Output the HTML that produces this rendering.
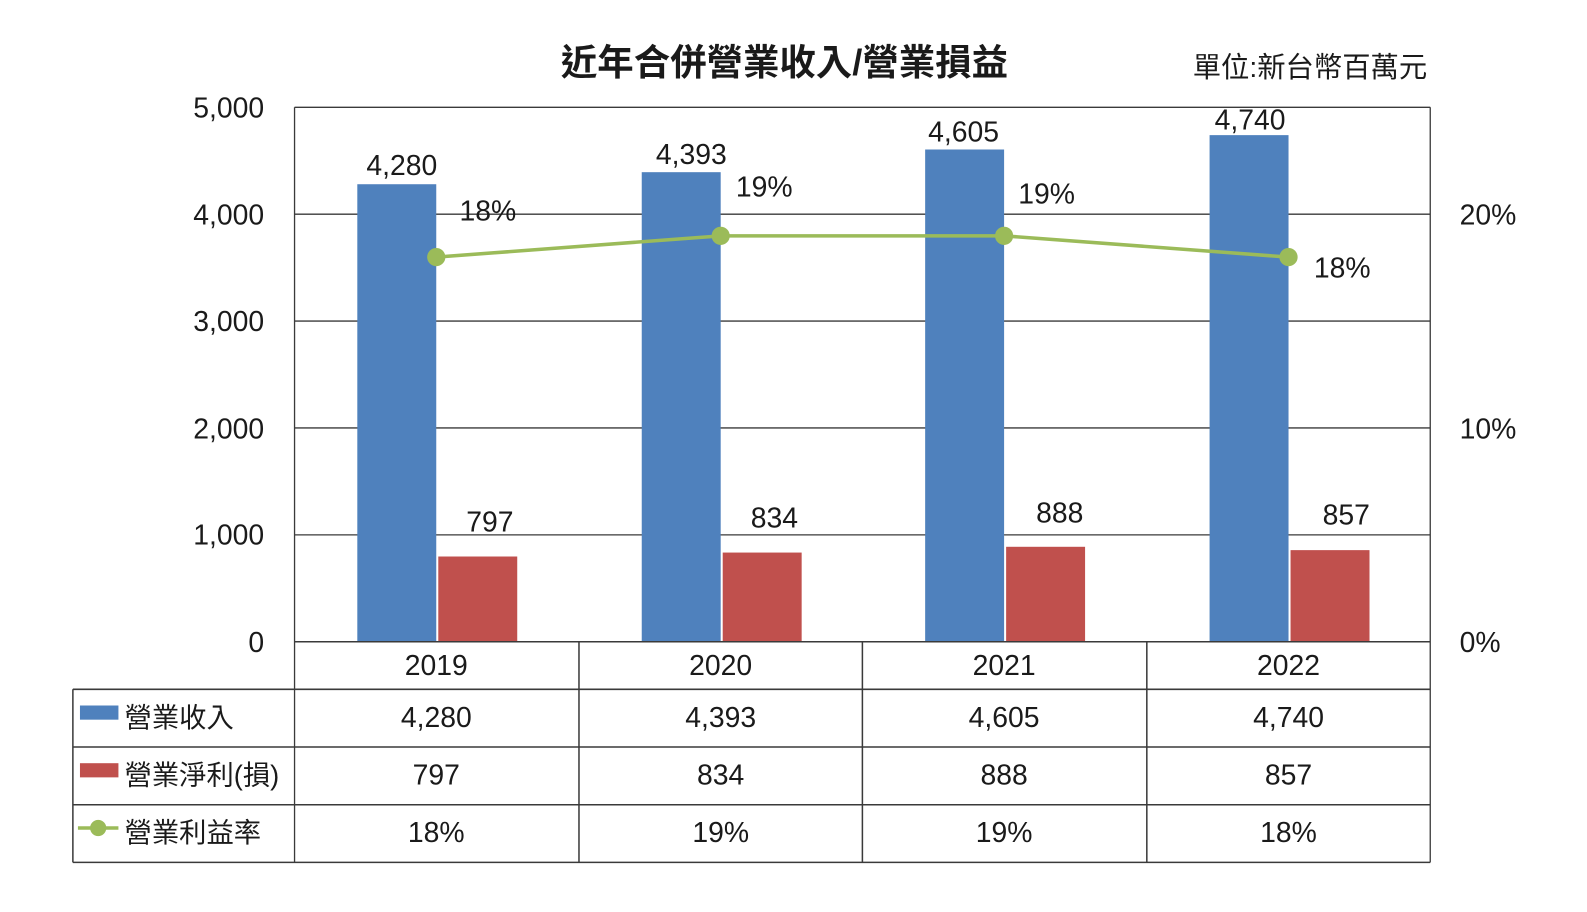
<!DOCTYPE html>
<html><head><meta charset="utf-8"><style>
html,body{margin:0;padding:0;background:#fff;overflow:hidden;}
svg text{font-family:"Liberation Sans","Noto Sans CJK TC",sans-serif;fill:#1a1a1a;}
</style></head><body>
<svg width="1587" height="907" viewBox="0 0 1587 907" xmlns="http://www.w3.org/2000/svg">
<g transform="scale(1.0122)">
<text x="775" y="74" font-size="36" font-weight="bold" text-anchor="middle">近年合併營業收入/營業損益</text>
<text x="1410" y="76" font-size="28" text-anchor="end">單位:新台幣百萬元</text>
<g stroke="#3a3a3a" stroke-width="1.3">
<line x1="291" y1="106" x2="1413" y2="106"/>
<line x1="291" y1="211.6" x2="1413" y2="211.6"/>
<line x1="291" y1="317.2" x2="1413" y2="317.2"/>
<line x1="291" y1="422.8" x2="1413" y2="422.8"/>
<line x1="291" y1="528.4" x2="1413" y2="528.4"/>
<line x1="291" y1="106" x2="291" y2="852"/>
<line x1="1413" y1="106" x2="1413" y2="852"/>
</g>
<g font-size="28" text-anchor="end">
<text x="261" y="116">5,000</text><text x="261" y="222">4,000</text><text x="261" y="327">3,000</text>
<text x="261" y="433">2,000</text><text x="261" y="538">1,000</text><text x="261" y="644">0</text>
</g>
<g font-size="28">
<text x="1442" y="222">20%</text><text x="1442" y="433">10%</text><text x="1442" y="644">0%</text>
</g>
<g fill="#4f81bd">
<rect x="353" y="182" width="78" height="452"/>
<rect x="634" y="170.1" width="78" height="463.9"/>
<rect x="914" y="147.7" width="78" height="486.3"/>
<rect x="1195" y="133.5" width="78" height="500.5"/>
</g>
<g fill="#c0504d">
<rect x="433" y="549.8" width="78" height="84.2"/>
<rect x="714" y="545.9" width="78" height="88.1"/>
<rect x="994" y="540.2" width="78" height="93.8"/>
<rect x="1275" y="543.5" width="78" height="90.5"/>
</g>
<g font-size="28" text-anchor="middle">
<text x="397" y="173">4,280</text><text x="683" y="162">4,393</text><text x="952" y="140">4,605</text><text x="1235" y="128">4,740</text>
<text x="484" y="525">797</text><text x="765" y="521">834</text><text x="1047" y="516">888</text><text x="1330" y="518">857</text>
<text x="482" y="218">18%</text><text x="755" y="194">19%</text><text x="1034" y="201">19%</text><text x="1326" y="274">18%</text>
</g>
<polyline points="431,254 712,233 992,233 1273,254" fill="none" stroke="#9bbb59" stroke-width="3.5"/>
<g fill="#9bbb59"><circle cx="431" cy="254" r="9"/><circle cx="712" cy="233" r="9"/><circle cx="992" cy="233" r="9"/><circle cx="1273" cy="254" r="9"/></g>
<g stroke="#3a3a3a" stroke-width="1.5" fill="none">
<line x1="291" y1="634" x2="1413" y2="634"/>
<line x1="72" y1="681" x2="1413" y2="681"/>
<line x1="72" y1="738" x2="1413" y2="738"/>
<line x1="72" y1="795" x2="1413" y2="795"/>
<line x1="72" y1="852" x2="1413" y2="852"/>
<line x1="72" y1="681" x2="72" y2="852"/>
<line x1="572" y1="634" x2="572" y2="852"/>
<line x1="852" y1="634" x2="852" y2="852"/>
<line x1="1133" y1="634" x2="1133" y2="852"/>
</g>
<rect x="79" y="697" width="38" height="14" fill="#4f81bd"/>
<rect x="79" y="754" width="38" height="14" fill="#c0504d"/>
<line x1="77" y1="818" x2="117" y2="818" stroke="#9bbb59" stroke-width="3.5"/>
<circle cx="97" cy="818" r="8" fill="#9bbb59"/>
<g font-size="27">
<text x="123" y="718">營業收入</text><text x="123" y="775">營業淨利(損)</text><text x="123" y="832">營業利益率</text>
</g>
<g font-size="28" text-anchor="middle">
<text x="431" y="667">2019</text><text x="712" y="667">2020</text><text x="992" y="667">2021</text><text x="1273" y="667">2022</text>
<text x="431" y="718">4,280</text><text x="712" y="718">4,393</text><text x="992" y="718">4,605</text><text x="1273" y="718">4,740</text>
<text x="431" y="775">797</text><text x="712" y="775">834</text><text x="992" y="775">888</text><text x="1273" y="775">857</text>
<text x="431" y="832">18%</text><text x="712" y="832">19%</text><text x="992" y="832">19%</text><text x="1273" y="832">18%</text>
</g>
</g>
</svg>
</body></html>
